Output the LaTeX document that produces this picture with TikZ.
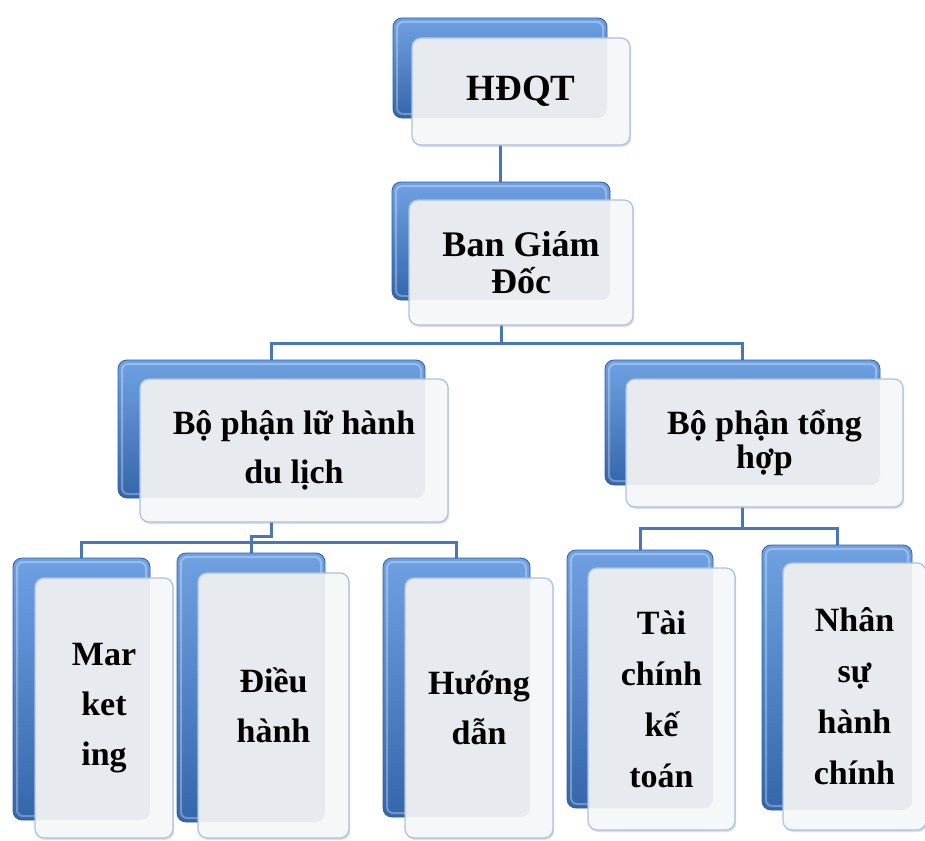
\documentclass[tikz,border=0pt]{standalone}
\usepackage{fontspec}
\setmainfont{Liberation Serif}
\usetikzlibrary{fit,shadows,backgrounds}
\definecolor{bktop}{HTML}{6FA1E2}
\definecolor{bkmid}{HTML}{4A80C8}
\definecolor{bkbot}{HTML}{3566AB}
\definecolor{bkedge}{HTML}{2F5E9E}
\definecolor{frf}{HTML}{E7EAEF}
\definecolor{frl}{HTML}{F6F7F9}
\definecolor{frb}{HTML}{A7C2E5}
\definecolor{cn}{HTML}{4677B8}
\tikzset{
  backbox/.style={draw=bkedge, line width=0.8pt, rounded corners=9pt,
    top color=bktop, middle color=bkmid, bottom color=bkbot, inner sep=0pt, outer sep=0pt},
  backhl/.style={draw=white, draw opacity=0.3, line width=2pt, rounded corners=6pt},
  frontbox/.style={draw=frb, line width=1.2pt, rounded corners=9pt, fill=frl,
    inner sep=0pt, outer sep=0pt,
    drop shadow={opacity=0.25, shadow xshift=1.2pt, shadow yshift=-2pt}},
  lbl/.style={align=center, inner sep=0pt, text=black},
  conn/.style={draw=cn, line width=3pt},
}
\newcommand\obox[9]{%
  \node[backbox, fit={(#2,#3) (#4,#5)}] (#1-b) {};
  \draw[backhl] ([shift={(4pt,-4pt)}]#1-b.north west) rectangle ([shift={(-4pt,4pt)}]#1-b.south east);
  \node[frontbox, fit={(#6,#7) (#8,#9)},
    path picture={\fill[frf, rounded corners=9pt] (#1-b.south west) rectangle (#1-b.north east);}] (#1) {};
}
\begin{document}
\begin{tikzpicture}[x=1pt, y=-1pt]
\useasboundingbox (0,0) rectangle (925,840);

\obox{hdqt}{393}{18}{607}{118}{412}{38}{630}{145}
\obox{bgd}{392}{182}{610}{300}{409}{200}{633}{325}
\obox{lh}{118}{360}{425}{498}{140}{379}{448}{522}
\obox{th}{605}{360}{880}{485}{626}{379}{903}{507}
\obox{mk}{13}{558}{150}{820}{35}{578}{173}{838}
\obox{dh}{177}{553}{325}{822}{198}{573}{349}{838}
\obox{hd}{383}{558}{530}{817}{405}{578}{553}{838}
\obox{tc}{567}{550}{713}{808}{588}{568}{735}{830}
\obox{ns}{762}{545}{912}{810}{783}{563}{926}{830}

\node[lbl, font=\bfseries\fontsize{37}{40}\selectfont] (hdqt-t) at (hdqt) {HĐQT};
\node[lbl, font=\bfseries\fontsize{36}{37}\selectfont] (bgd-t) at (bgd) {Ban Giám\\Đốc};
\node[lbl, font=\bfseries\fontsize{34}{49}\selectfont] (lh-t) at (lh) {Bộ phận lữ hành\\du lịch};
\node[lbl, font=\bfseries\fontsize{34}{34}\selectfont] (th-t) at (th) {Bộ phận tổng\\hợp};
\node[lbl, font=\bfseries\fontsize{34}{50}\selectfont] (mk-t) at (mk) {Mar\\ket\\ing};
\node[lbl, font=\bfseries\fontsize{34}{50}\selectfont] (dh-t) at (dh) {Điều\\hành};
\node[lbl, font=\bfseries\fontsize{34}{50}\selectfont] (hd-t) at (hd) {Hướng\\dẫn};
\node[lbl, font=\bfseries\fontsize{34}{51}\selectfont] (tc-t) at (tc) {Tài\\chính\\kế\\toán};
\node[lbl, font=\bfseries\fontsize{34}{51}\selectfont] (ns-t) at (ns) {Nhân\\sự\\hành\\chính};

\coordinate (j1) at (500,343);
\coordinate (j2) at (251,536);
\coordinate (j3) at (251,542);
\coordinate (j4) at (742.5,528);
\begin{pgfonlayer}{background}
  \draw[conn] (hdqt-b.south) -- (hdqt-b.south |- bgd-b.north);
  \draw[conn] (bgd-b.south) -- (bgd-b.south |- j1);
  \draw[conn] (lh-b.north) |- (j1) -| (th-b.north);
  \draw[conn] (lh-b.south) |- (j2) -- (dh-b.north);
  \draw[conn] (mk-b.north) |- (j3) -| (hd-b.north);
  \draw[conn] (th-b.south) -- (j4);
  \draw[conn] (tc-b.north) |- (j4) -| (ns-b.north);
\end{pgfonlayer}
\end{tikzpicture}
\end{document}
